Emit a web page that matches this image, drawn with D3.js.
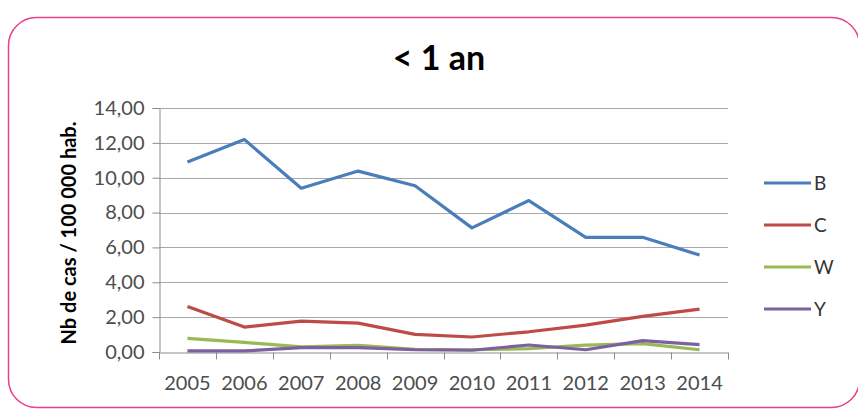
<!DOCTYPE html>
<html>
<head>
<meta charset="utf-8">
<script src="https://cdn.jsdelivr.net/npm/d3@7"></script>
<style>
  html, body { margin: 0; padding: 0; background: #fff; }
  svg { display: block; }
  text { font-family: Lato, "Open Sans", "Liberation Sans", sans-serif; }
</style>
</head>
<body>
<svg id="chart" width="858" height="409"></svg>
<script>
// Incidence per 100 000 inhabitants, children under 1 year, by serogroup
const years = ["2005","2006","2007","2008","2009","2010","2011","2012","2013","2014"];
const seriesNames = ["B","C","W","Y"];
const valuesB = [10.90, 12.19, 9.40, 10.38, 9.54, 7.12, 8.69, 6.58, 6.58, 5.56];
const valuesC = [2.61, 1.43, 1.77, 1.66, 1.01, 0.86, 1.16, 1.54, 2.04, 2.46];
const valuesW = [0.78, 0.55, 0.29, 0.38, 0.15, 0.13, 0.19, 0.40, 0.48, 0.13];
const valuesY = [0.06, 0.06, 0.25, 0.25, 0.13, 0.10, 0.40, 0.13, 0.65, 0.42];
const yTicks = [0, 2, 4, 6, 8, 10, 12, 14];
const titleText = "< 1 an";
const yTitle = "Nb de cas / 100 000 hab.";

const seriesValues = [valuesB, valuesC, valuesW, valuesY];
const colors = ["#4A7EBB", "#BE4B48", "#98B954", "#7D60A0"];

const svg = d3.select("#chart");

// rounded frame
svg.append("rect")
  .attr("x", 8.5).attr("y", 17.5)
  .attr("width", 851).attr("height", 390)
  .attr("rx", 28).attr("ry", 28)
  .attr("fill", "none")
  .attr("stroke", "#E8408A")
  .attr("stroke-width", 1.5);

const plot = { left: 159, right: 728, top: 108, bottom: 352 };

const x = d3.scaleBand().domain(years).range([plot.left, plot.right]);
const y = d3.scaleLinear().domain([0, 14]).range([plot.bottom, plot.top]);

// title
svg.append("text")
  .attr("x", 439).attr("y", 70)
  .attr("text-anchor", "middle")
  .attr("font-size", 34)
  .attr("font-weight", "bold")
  .attr("fill", "#000")
  .text(titleText);

// horizontal gridlines
svg.append("g")
  .attr("class", "grid")
  .selectAll("line")
  .data(yTicks.filter(d => d > 0))
  .join("line")
  .attr("x1", plot.left).attr("x2", plot.right)
  .attr("y1", d => Math.round(y(d)) + 0.5).attr("y2", d => Math.round(y(d)) + 0.5)
  .attr("stroke", "#A8A8A8").attr("stroke-width", 1.2);

// y axis
const yAxis = d3.axisLeft(y)
  .tickValues(yTicks)
  .tickSize(7)
  .tickPadding(8)
  .tickFormat(d => d3.format(".2f")(d).replace(".", ","));

const gy = svg.append("g")
  .attr("transform", `translate(${plot.left + 0.5},0)`)
  .call(yAxis);
gy.select(".domain").attr("stroke", "#8C8C8C");
gy.selectAll(".tick line").attr("stroke", "#8C8C8C");
gy.selectAll(".tick text")
  .attr("font-size", 20)
  .attr("fill", "#4D4D4D");

// x axis
const xAxis = d3.axisBottom(x).tickSize(0).tickPadding(0);
const gx = svg.append("g")
  .attr("transform", `translate(0,${plot.bottom + 0.5})`)
  .call(xAxis);
gx.select(".domain").attr("stroke", "#8C8C8C");
gx.selectAll(".tick text")
  .attr("y", 37)
  .attr("dy", null)
  .attr("font-size", 20)
  .attr("fill", "#4D4D4D");
// category boundary ticks
gx.append("g")
  .selectAll("line")
  .data(years.map(d => x(d)).concat([plot.right]))
  .join("line")
  .attr("x1", d => Math.round(d) + 0.5).attr("x2", d => Math.round(d) + 0.5)
  .attr("y1", 0).attr("y2", 7)
  .attr("stroke", "#8C8C8C");

// y axis title
svg.append("text")
  .attr("transform", `translate(76,${(plot.top + plot.bottom) / 2 + 3}) rotate(-90)`)
  .attr("text-anchor", "middle")
  .attr("font-size", 20)
  .attr("font-weight", "bold")
  .attr("fill", "#000")
  .text(yTitle);

// series lines
const line = d3.line()
  .x((d, i) => x(years[i]) + x.bandwidth() / 2)
  .y(d => y(d));

svg.append("g")
  .selectAll("path")
  .data(seriesValues)
  .join("path")
  .attr("d", d => line(d))
  .attr("fill", "none")
  .attr("stroke", (d, i) => colors[i])
  .attr("stroke-width", 3.2)
  .attr("stroke-linejoin", "round")
  .attr("stroke-linecap", "butt");

// legend
const legend = svg.append("g")
  .selectAll("g")
  .data(seriesNames)
  .join("g")
  .attr("transform", (d, i) => `translate(764,${183 + i * 42})`);
legend.append("line")
  .attr("x1", 0).attr("x2", 47)
  .attr("stroke", (d, i) => colors[i])
  .attr("stroke-width", 3.2);
legend.append("text")
  .attr("x", 50).attr("y", 7)
  .attr("font-size", 19)
  .attr("fill", "#333")
  .text(d => d);
</script>
</body>
</html>
